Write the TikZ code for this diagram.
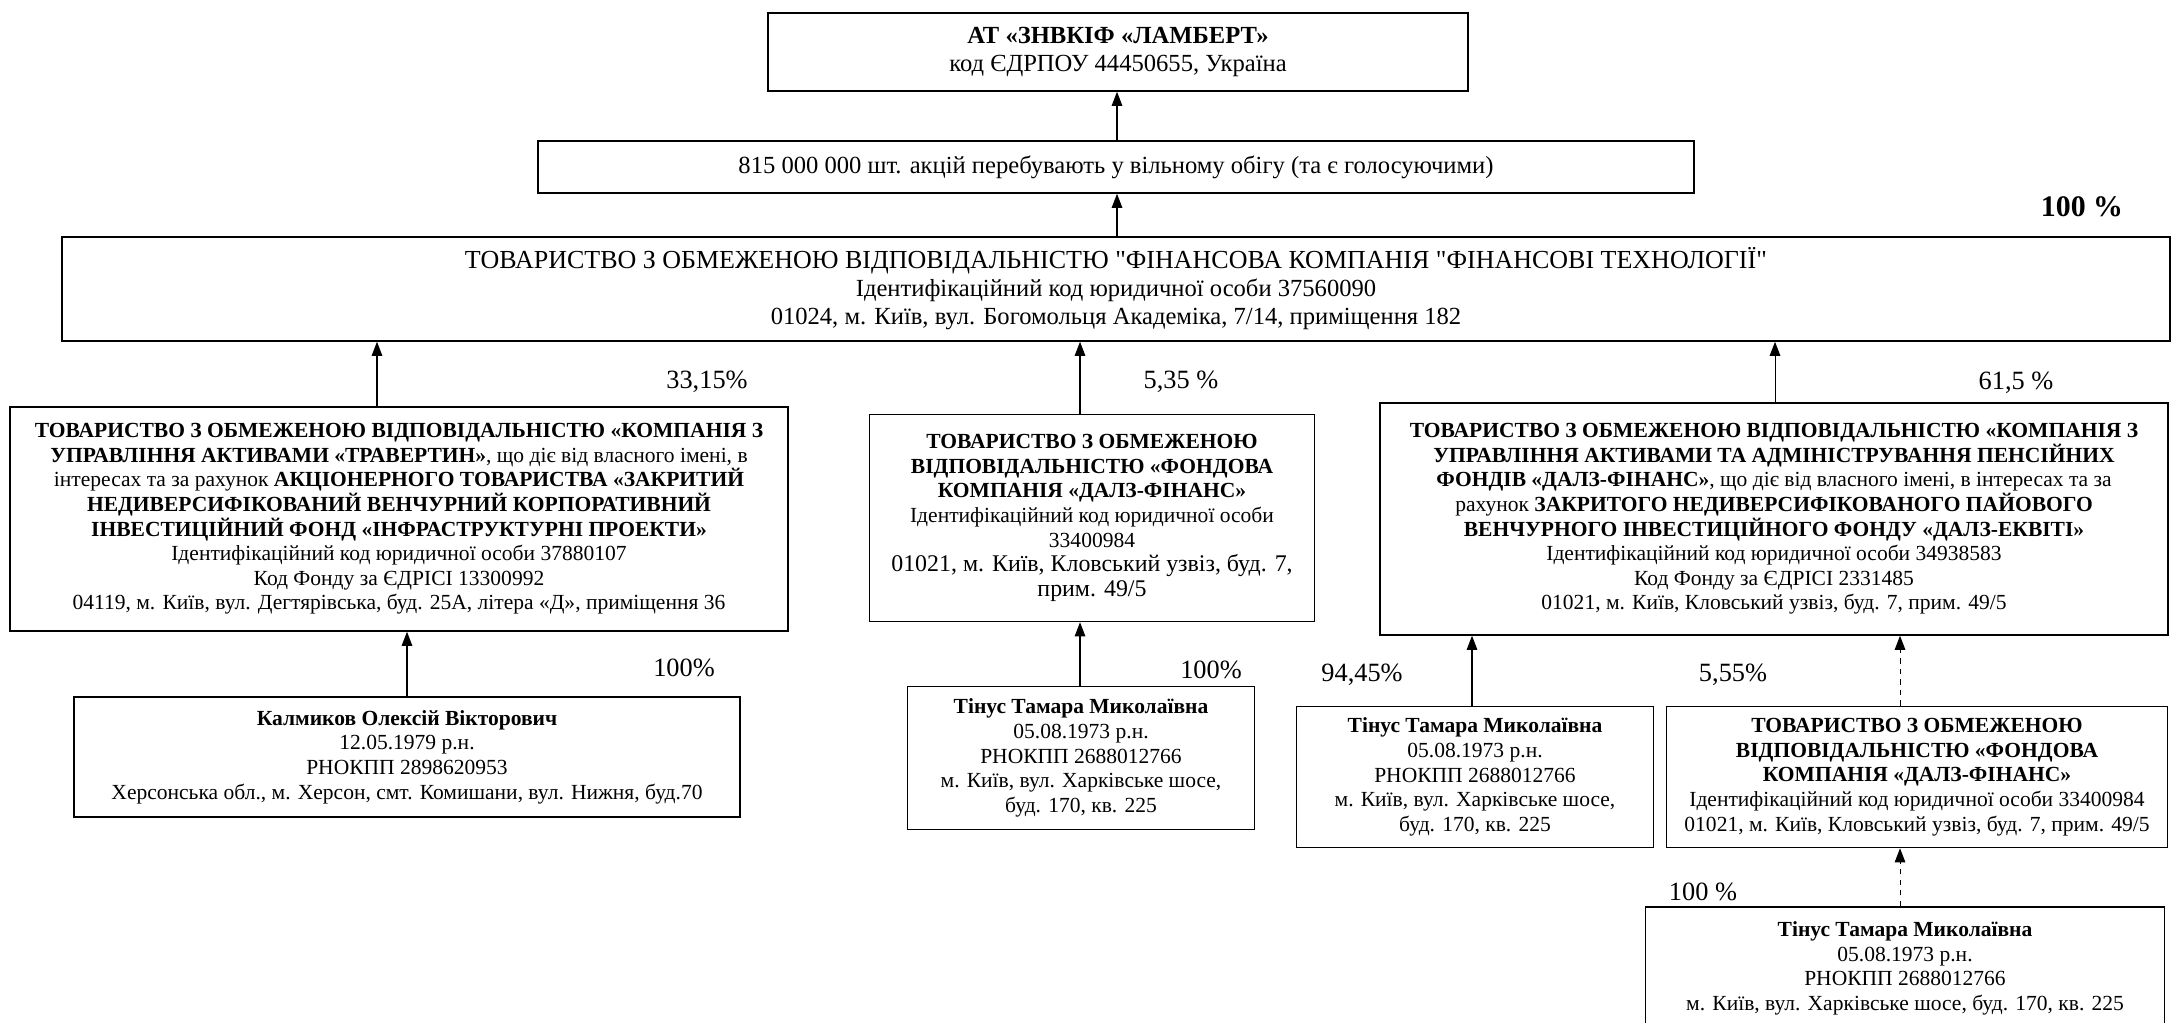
\documentclass[tikz,border=0pt]{standalone}
\usepackage{fontspec}
\setmainfont{Liberation Serif}[Ligatures=TeXOff]
\usetikzlibrary{arrows.meta, positioning}

\begin{document}
\begin{tikzpicture}[x=0.02cm, y=-0.02cm,
  box/.style={draw, line width=0.9pt, align=center, inner sep=0pt,
              font=\fontsize{12.25}{14}\selectfont},
  arr/.style={-{Triangle[length=8pt, width=6pt]}, line width=0.6pt},
  pct/.style={font=\fontsize{15}{17}\selectfont},
]
\useasboundingbox (0,0) rectangle (2172,1023);
\clip (0,0) rectangle (2172,1023);

% top levels
\node[box, minimum width=14cm, minimum height=1.56cm, font=\fontsize{14}{16.4}\selectfont] (lambert) at (1118,52)
  {\textbf{АТ «ЗНВКІФ «ЛАМБЕРТ»}\\код ЄДРПОУ 44450655, Україна};
\node[box, minimum width=23.12cm, minimum height=1.04cm, font=\fontsize{14}{16}\selectfont] (shares) at (1116,167)
  {815 000 000 шт. акцій перебувають у вільному обігу (та є голосуючими)};
\node[box, minimum width=42.16cm, minimum height=2.08cm, font=\fontsize{14}{15.9}\selectfont] (fintech) at (1116,289)
  {{\fontsize{14.8}{15.9}\selectfont ТОВАРИСТВО З ОБМЕЖЕНОЮ ВІДПОВІДАЛЬНІСТЮ "ФІНАНСОВА КОМПАНІЯ "ФІНАНСОВІ ТЕХНОЛОГІЇ"}\\
   Ідентифікаційний код юридичної особи 37560090\\
   01024, м. Київ, вул. Богомольця Академіка, 7/14, приміщення 182};
\node[font=\bfseries\fontsize{17}{19}\selectfont] (p100top) at (2082,207) {100 \%};

% owners of fintech
\node[box, minimum width=15.56cm, minimum height=4.48cm] (travertyn) at (399,519)
  {\textbf{ТОВАРИСТВО З ОБМЕЖЕНОЮ ВІДПОВІДАЛЬНІСТЮ «КОМПАНІЯ З}\\
   \textbf{УПРАВЛІННЯ АКТИВАМИ «ТРАВЕРТИН»}, що діє від власного імені, в\\
   інтересах та за рахунок \textbf{АКЦІОНЕРНОГО ТОВАРИСТВА «ЗАКРИТИЙ}\\
   \textbf{НЕДИВЕРСИФІКОВАНИЙ ВЕНЧУРНИЙ КОРПОРАТИВНИЙ}\\
   \textbf{ІНВЕСТИЦІЙНИЙ ФОНД «ІНФРАСТРУКТУРНІ ПРОЕКТИ»}\\
   Ідентифікаційний код юридичної особи 37880107\\
   Код Фонду за ЄДРІСІ 13300992\\
   04119, м. Київ, вул. Дегтярівська, буд. 25А, літера «Д», приміщення 36};
\node[box, minimum width=8.9cm, minimum height=4.14cm] (dalz) at (1092,518)
  {\textbf{ТОВАРИСТВО З ОБМЕЖЕНОЮ}\\
   \textbf{ВІДПОВІДАЛЬНІСТЮ «ФОНДОВА}\\
   \textbf{КОМПАНІЯ «ДАЛЗ-ФІНАНС»}\\
   Ідентифікаційний код юридичної особи\\
   33400984\\
   {\fontsize{13.6}{14}\selectfont 01021, м. Київ, Кловський узвіз, буд. 7,}\\
   {\fontsize{13.6}{14}\selectfont прим. 49/5}};
\node[box, minimum width=15.76cm, minimum height=4.64cm] (ekvit) at (1774,519)
  {\textbf{ТОВАРИСТВО З ОБМЕЖЕНОЮ ВІДПОВІДАЛЬНІСТЮ «КОМПАНІЯ З}\\
   \textbf{УПРАВЛІННЯ АКТИВАМИ ТА АДМІНІСТРУВАННЯ ПЕНСІЙНИХ}\\
   \textbf{ФОНДІВ «ДАЛЗ-ФІНАНС»}, що діє від власного імені, в інтересах та за\\
   рахунок \textbf{ЗАКРИТОГО НЕДИВЕРСИФІКОВАНОГО ПАЙОВОГО}\\
   \textbf{ВЕНЧУРНОГО ІНВЕСТИЦІЙНОГО ФОНДУ «ДАЛЗ-ЕКВІТІ»}\\
   Ідентифікаційний код юридичної особи 34938583\\
   Код Фонду за ЄДРІСІ 2331485\\
   01021, м. Київ, Кловський узвіз, буд. 7, прим. 49/5};

\node[pct] (p3315) at (707,382) {33,15\%};
\node[pct] (p535) at (1181,382) {5,35 \%};
\node[pct] (p615) at (2016,383) {61,5 \%};

% persons and funds below
\node[box, minimum width=13.32cm, minimum height=2.4cm] (kalmykov) at (407,757)
  {\textbf{Калмиков Олексій Вікторович}\\
   12.05.1979 р.н.\\
   РНОКПП 2898620953\\
   Херсонська обл., м. Херсон, смт. Комишани, вул. Нижня, буд.70};
\node[box, minimum width=6.94cm, minimum height=2.86cm] (tinusA) at (1081,758)
  {\textbf{Тінус Тамара Миколаївна}\\
   05.08.1973 р.н.\\
   РНОКПП 2688012766\\
   м. Київ, вул. Харківське шосе,\\
   буд. 170, кв. 225};
\node[box, minimum width=7.14cm, minimum height=2.82cm] (tinusB) at (1475,777)
  {\textbf{Тінус Тамара Миколаївна}\\
   05.08.1973 р.н.\\
   РНОКПП 2688012766\\
   м. Київ, вул. Харківське шосе,\\
   буд. 170, кв. 225};
\node[box, minimum width=10.02cm, minimum height=2.82cm] (dalzB) at (1917,777)
  {\textbf{ТОВАРИСТВО З ОБМЕЖЕНОЮ}\\
   \textbf{ВІДПОВІДАЛЬНІСТЮ «ФОНДОВА}\\
   \textbf{КОМПАНІЯ «ДАЛЗ-ФІНАНС»}\\
   Ідентифікаційний код юридичної особи 33400984\\
   01021, м. Київ, Кловський узвіз, буд. 7, прим. 49/5};
\node[box, anchor=north, minimum width=10.38cm, inner ysep=0.3cm, text depth=1.6cm] (tinusC) at (1905,906)
  {\textbf{Тінус Тамара Миколаївна}\\
   05.08.1973 р.н.\\
   РНОКПП 2688012766\\
   м. Київ, вул. Харківське шосе, буд. 170, кв. 225};

\node[pct] (p100a) at (684,668) {100\%};
\node[pct] (p100b) at (1211,670) {100\%};
\node[pct] (p9445) at (1362,675) {94,45\%};
\node[pct] (p555) at (1733,675) {5,55\%};
\node[pct] (p100c) at (1703,892) {100 \%};

% arrow positions
\coordinate (xA) at (1117,0);
\coordinate (xB) at (377,0);
\coordinate (xC) at (1080,0);
\coordinate (xD) at (1775,0);
\coordinate (xE) at (407,0);
\coordinate (xG) at (1472,0);
\coordinate (xH) at (1900,0);

\draw[arr] (shares.north -| xA) -- (lambert.south -| xA);
\draw[arr] (fintech.north -| xA) -- (shares.south -| xA);
\draw[arr] (travertyn.north -| xB) -- (fintech.south -| xB);
\draw[arr] (dalz.north -| xC) -- (fintech.south -| xC);
\draw[arr] (ekvit.north -| xD) -- (fintech.south -| xD);
\draw[arr] (kalmykov.north -| xE) -- (travertyn.south -| xE);
\draw[arr] (tinusA.north -| xC) -- (dalz.south -| xC);
\draw[arr] (tinusB.north -| xG) -- (ekvit.south -| xG);
\draw[arr, dashed] (dalzB.north -| xH) -- (ekvit.south -| xH);
\draw[arr, dashed] (tinusC.north -| xH) -- (dalzB.south -| xH);
\end{tikzpicture}
\end{document}
